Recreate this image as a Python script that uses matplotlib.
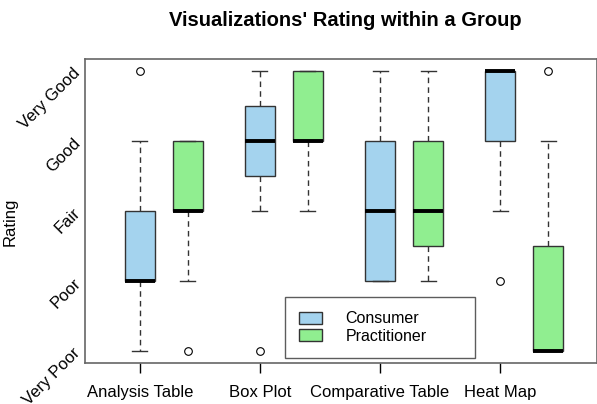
import matplotlib
matplotlib.use("Agg")
import matplotlib.pyplot as plt
from matplotlib.patches import Patch

categories = ["Analysis Table", "Box Plot", "Comparative Table", "Heat Map"]
rating_labels = ["Very Poor", "Poor", "Fair", "Good", "Very Good"]
groups = ["Consumer", "Practitioner"]
colors = ["#A4D3EE", "#90EE90"]

# five-number summaries (1=Very Poor ... 5=Very Good)
consumer_whislo = [1, 3, 2, 3]
consumer_q1 = [2, 3.5, 2, 4]
consumer_med = [2, 4, 3, 5]
consumer_q3 = [3, 4.5, 4, 5]
consumer_whishi = [4, 5, 5, 5]
consumer_fliers = [[5], [1], [], [2]]

pract_whislo = [2, 3, 2, 1]
pract_q1 = [3, 4, 2.5, 1]
pract_med = [3, 4, 3, 1]
pract_q3 = [4, 5, 4, 2.5]
pract_whishi = [4, 5, 5, 4]
pract_fliers = [[1], [], [], [5]]


def make_stats(lo, q1, med, q3, hi, fl):
    return [dict(whislo=a, q1=b, med=c, q3=d, whishi=e, fliers=f)
            for a, b, c, d, e, f in zip(lo, q1, med, q3, hi, fl)]


FONT = "Liberation Sans"
fig = plt.figure(figsize=(5.97, 4.04), dpi=100)
ax = fig.add_axes([85 / 597, 1 - 363 / 404, 512 / 597, 304 / 404])

all_stats = [
    make_stats(consumer_whislo, consumer_q1, consumer_med, consumer_q3, consumer_whishi, consumer_fliers),
    make_stats(pract_whislo, pract_q1, pract_med, pract_q3, pract_whishi, pract_fliers),
]
offsets = [0.0, 0.4]
for stats, off, col in zip(all_stats, offsets, colors):
    pos = [i + 1 + off for i in range(len(categories))]
    bp = ax.bxp(stats, positions=pos, widths=0.245, patch_artist=True,
                showfliers=True, manage_ticks=False,
                boxprops=dict(facecolor=col, edgecolor="#333333", linewidth=1.0),
                medianprops=dict(color="black", linewidth=2.8, solid_capstyle="butt"),
                whiskerprops=dict(color="#333333", linestyle=(0, (4, 3)), linewidth=1.0),
                capprops=dict(color="#333333", linewidth=1.0),
                flierprops=dict(marker="o", markerfacecolor="white",
                                markeredgecolor="black", markersize=5.5, markeredgewidth=0.8))
    for c in bp["caps"]:
        x0, x1 = c.get_xdata()
        m = (x0 + x1) / 2
        c.set_xdata([m - 0.0625, m + 0.0625])

ax.set_xlim(0.542, 4.808)
ax.set_ylim(0.83, 5.164)
ax.set_xticks(range(1, len(categories) + 1))
ax.set_xticklabels(categories, fontsize=12, family=FONT)
ax.set_yticks(range(1, 6))
ax.set_yticklabels(rating_labels, rotation=45, fontsize=12, family=FONT,
                   ha="right", va="center", rotation_mode="anchor")
ax.tick_params(axis="x", length=7, color="black", width=1, pad=9)
ax.tick_params(axis="y", length=0, pad=5)
for s in ax.spines.values():
    s.set_color("#666666")
    s.set_linewidth(1.2)

ax.set_ylabel("Rating", fontsize=12, family=FONT)
ax.yaxis.set_label_coords((18 - 85) / 512, (363 - 222) / 304)
fig.text(345 / 597, 1 - 20 / 404, "Visualizations' Rating within a Group",
         ha="center", va="center", fontsize=14.5, fontweight="bold", family=FONT)

handles = [Patch(facecolor=c, edgecolor="#333333", label=g) for c, g in zip(colors, groups)]
leg = ax.legend(handles=handles, loc="lower left",
                bbox_to_anchor=((285 - 85) / 512, (363 - 358) / 304, 190 / 512, 61 / 304),
                mode="expand", frameon=True, fancybox=False,
                prop=dict(family=FONT, size=11.5),
                borderaxespad=0, handlelength=1.4, handleheight=0.8, handletextpad=1.5,
                borderpad=0.9, labelspacing=0.15)
leg.get_frame().set_edgecolor("#333333")
leg.get_frame().set_linewidth(1.0)

fig.savefig("out.png", dpi=100)
